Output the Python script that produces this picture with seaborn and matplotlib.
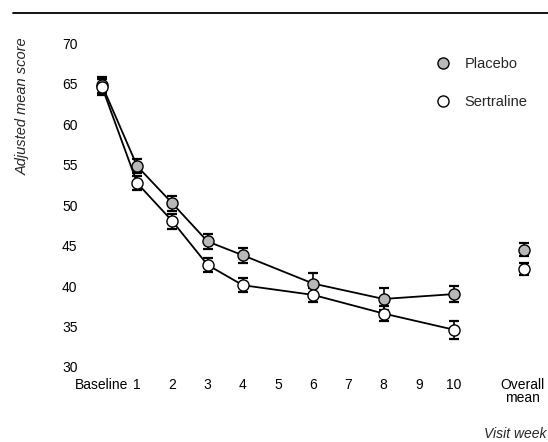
import matplotlib
matplotlib.use('Agg')
import matplotlib.pyplot as plt
from matplotlib.lines import Line2D
import pandas as pd
import seaborn as sns

# Values (adjusted mean score +/- SE)
weeks = [0, 1, 2, 3, 4, 6, 8, 10]
placebo = [64.8, 54.8, 50.2, 45.5, 43.8, 40.3, 38.4, 39.0]
placebo_se = [1.0, 0.9, 0.9, 0.9, 0.9, 1.3, 1.4, 1.0]
sertraline = [64.6, 52.7, 48.0, 42.6, 40.1, 38.9, 36.6, 34.6]
sertraline_se = [1.0, 0.9, 0.9, 0.9, 0.9, 0.9, 0.9, 1.1]

overall_week = 12
overall_placebo, overall_placebo_se = 44.5, 0.8
overall_sertraline, overall_sertraline_se = 42.1, 0.8

tick_pos = [0, 1, 2, 3, 4, 5, 6, 7, 8, 9, 10, 11.95]
tick_labels = ['Baseline', '1', '2', '3', '4', '5', '6', '7', '8', '9', '10', 'Overall\nmean']
y_ticks = [30, 35, 40, 45, 50, 55, 60, 65, 70]

sns.set_theme(style='white')
plt.rcParams['font.family'] = ['Liberation Sans Narrow', 'Liberation Sans', 'DejaVu Sans']

df = pd.concat([
    pd.DataFrame({'week': weeks, 'score': placebo, 'se': placebo_se, 'group': 'Placebo'}),
    pd.DataFrame({'week': weeks, 'score': sertraline, 'se': sertraline_se, 'group': 'Sertraline'}),
])

fills = {'Placebo': '#b8b8b8', 'Sertraline': 'white'}

fig = plt.figure(figsize=(5.48, 4.42), dpi=100)
ax = fig.add_axes([0.154, 0.1606, 0.8414, 0.7602])

for name, sub in df.groupby('group'):
    ax.errorbar(sub['week'], sub['score'], yerr=sub['se'], fmt='none',
                ecolor='black', elinewidth=1.2, capsize=3.5, capthick=1.6, zorder=2)
    sns.lineplot(data=sub, x='week', y='score', ax=ax, color='black', linewidth=1.3,
                 marker='o', markersize=8, markerfacecolor=fills[name],
                 markeredgecolor='black', markeredgewidth=1.0, zorder=3, legend=False)

# overall means, not joined
for val, se, name in [(overall_placebo, overall_placebo_se, 'Placebo'),
                      (overall_sertraline, overall_sertraline_se, 'Sertraline')]:
    ax.errorbar([overall_week], [val], yerr=[se], fmt='none', ecolor='black',
                elinewidth=1.2, capsize=3.5, capthick=1.6, zorder=2)
    ax.plot([overall_week], [val], 'o', markersize=8, markerfacecolor=fills[name],
            markeredgecolor='black', markeredgewidth=1.0, zorder=3)

ax.set_xlim(-0.5, 12.6)
ax.set_ylim(29.5, 71)
ax.set_xticks(tick_pos)
ax.set_xticklabels(tick_labels, fontsize=10, linespacing=0.95)
ax.set_yticks(y_ticks)
ax.set_yticklabels([str(v) for v in y_ticks], fontsize=10)
ax.tick_params(axis='both', length=0, pad=5, colors='black')
ax.set_xlabel('')
ax.set_ylabel('')
for s in ax.spines.values():
    s.set_visible(False)

handles = [Line2D([], [], linestyle='none', marker='o', markersize=8,
                  markerfacecolor=fills[g], markeredgecolor='black', markeredgewidth=1.0)
           for g in ['Placebo', 'Sertraline']]
ax.legend(handles, ['Placebo', 'Sertraline'], loc='upper left',
          bbox_to_anchor=(436 / 548, 1 - 57 / 442), bbox_transform=fig.transFigure,
          frameon=False, fontsize=10.5, handlelength=1.0, handletextpad=0.95,
          labelspacing=1.65, borderpad=0, borderaxespad=0)

fig.text(0.042, 1 - 37 / 442, 'Adjusted mean score', rotation=90, ha='center', va='top',
         fontsize=10.5, style='italic')
fig.text(0.998, 0.002, 'Visit week', ha='right', va='bottom', fontsize=10, style='italic')

# rule along the top of the figure
fig.add_artist(Line2D([13 / 548, 1.0], [1 - 13 / 442, 1 - 13 / 442],
                      transform=fig.transFigure, color='black', linewidth=1.3))

fig.savefig('out.png', dpi=100)
